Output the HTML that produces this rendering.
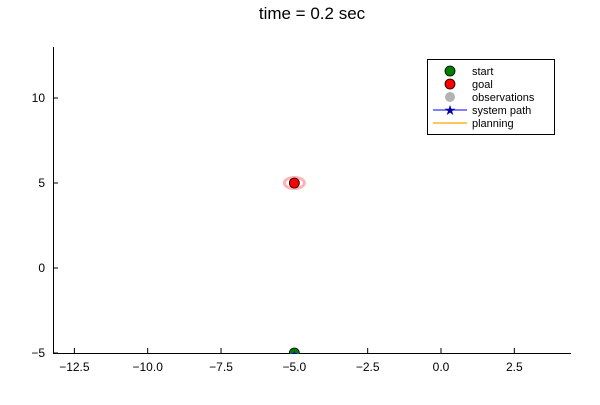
<!DOCTYPE html>
<html><head><meta charset="utf-8"><style>
body{margin:0;background:#fff;}
svg{font-family:"Liberation Sans",sans-serif;}
</style></head><body>
<svg width="600" height="400" xmlns="http://www.w3.org/2000/svg">
<defs><clipPath id="pc"><rect x="53" y="40" width="520" height="314"/></clipPath></defs>
<rect width="600" height="400" fill="#fff"/>
<text x="312" y="19" font-size="17" text-anchor="middle">time = 0.2 sec</text>
<g id="axes"></g>
<g id="marks" clip-path="url(#pc)"></g>
<g>
<rect x="427.5" y="59.5" width="127" height="75" fill="#fff" stroke="#000" stroke-width="1"/>
<g><circle cx="450" cy="71" r="5" fill="#008000" stroke="#000" stroke-width="0.8"/><text x="472" y="75" font-size="11">start</text></g>
<g><circle cx="450" cy="84" r="5" fill="#ff0000" stroke="#000" stroke-width="0.8"/><text x="472" y="88" font-size="11">goal</text></g>
<g><circle cx="450" cy="97" r="5" fill="#b3b3b3"/><text x="472" y="101" font-size="11">observations</text></g>
<g><line x1="433" y1="110" x2="467" y2="110" stroke="#0000ff" stroke-width="1"/><text x="450" y="115" font-size="14" text-anchor="middle" fill="#0000aa">★</text><text x="472" y="114" font-size="11">system path</text></g>
<g><line x1="433" y1="123" x2="467" y2="123" stroke="#ffa500" stroke-width="1.2"/><text x="472" y="127" font-size="11">planning</text></g>
</g>
</svg>
<script>
const xTicks=[-12.5,-10,-7.5,-5,-2.5,0,2.5];
const xTickLabels=["\u221212.5","\u221210.0","\u22127.5","\u22125.0","\u22122.5","0.0","2.5"];
const yTicks=[-5,0,5,10];
const yTickLabels=["\u22125","0","5","10"];
const startPoint=[-5,-5];
const goalPoint=[-5,5];
const pathX=[-5];
const pathY=[-5];
const NS="http://www.w3.org/2000/svg";
const x=v=>441+29.33*v;
const y=v=>268-17*v;
function mk(tag,attrs,parent,text){const e=document.createElementNS(NS,tag);for(const k in attrs)e.setAttribute(k,attrs[k]);if(text!==undefined)e.textContent=text;parent.appendChild(e);return e;}
const ax=document.getElementById('axes');
let e=mk('line',{x1:53,y1:353.5,x2:571,y2:353.5,stroke:'#000','stroke-width':1},ax);


e=mk('line',{x1:53.5,y1:47,x2:53.5,y2:354,stroke:'#000','stroke-width':1},ax);


xTicks.forEach((t,i)=>{
 mk('line',{x1:x(t),y1:353,x2:x(t),y2:348,stroke:'#000'},ax);
 const l=mk('text',{x:x(t),y:371,'font-size':12,'text-anchor':'middle'},ax,xTickLabels[i]);
 
 
});
yTicks.forEach((t,i)=>{
 mk('line',{x1:53,y1:y(t),x2:58,y2:y(t),stroke:'#000'},ax);
 const l=mk('text',{x:45,y:y(t)+4,'font-size':12,'text-anchor':'end'},ax,yTickLabels[i]);
 
 
});
const m=document.getElementById('marks');
e=mk('ellipse',{cx:x(goalPoint[0]),cy:y(goalPoint[1]),rx:10,ry:5.5,fill:'none',stroke:'#ffb3b3','stroke-width':3},m);


e=mk('circle',{cx:x(goalPoint[0]),cy:y(goalPoint[1]),r:5,fill:'#ff0000',stroke:'#000','stroke-width':0.8},m);


e=mk('circle',{cx:x(startPoint[0]),cy:y(startPoint[1]),r:5,fill:'#008000',stroke:'#000','stroke-width':0.8},m);


pathX.forEach((v,i)=>{
 const s=mk('text',{x:x(v),y:y(pathY[i])+4,'font-size':9,'text-anchor':'middle',fill:'#0000cc'},m,'★');
 
 
});
</script>
</body></html>
